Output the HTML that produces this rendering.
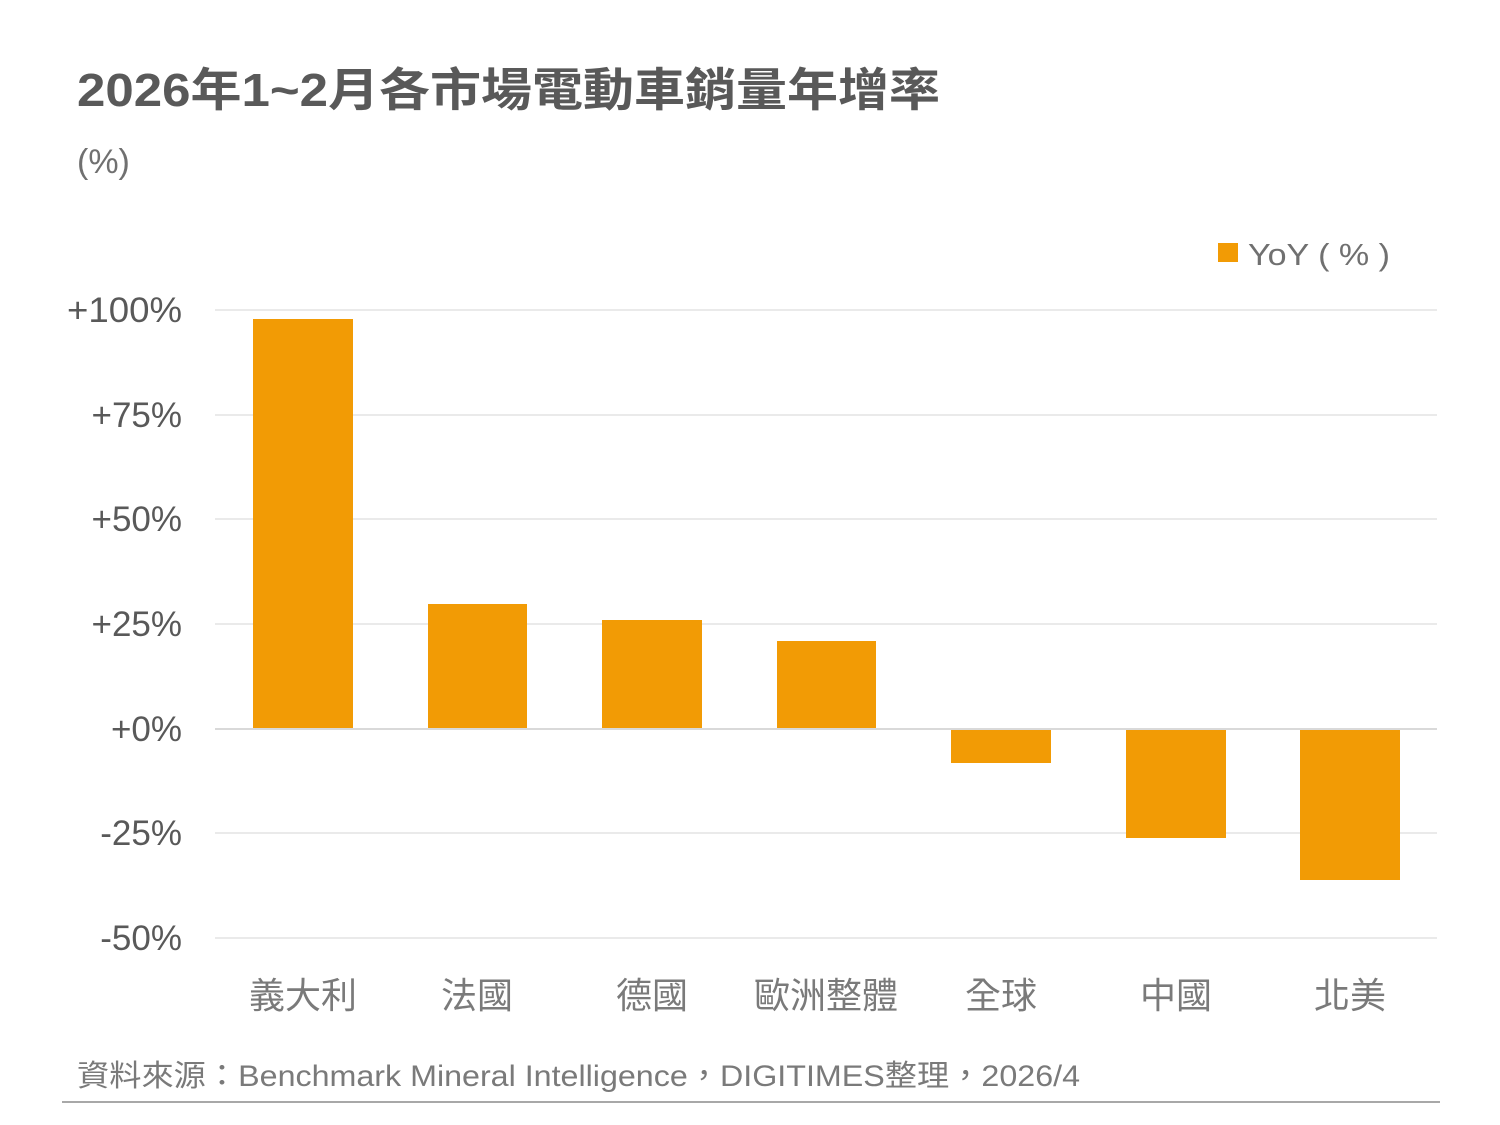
<!DOCTYPE html>
<html><head><meta charset="utf-8"><style>
html,body{margin:0;padding:0;background:#fff;}
svg{display:block;font-family:"Liberation Sans","Noto Sans CJK TC",sans-serif;}
</style></head><body>
<svg width="1500" height="1125" viewBox="0 0 1500 1125">
<rect width="1500" height="1125" fill="#fff"/>
<text x="77" y="106" font-size="46" font-weight="bold" fill="#595959" textLength="863" lengthAdjust="spacingAndGlyphs">2026年1~2月各市場電動車銷量年增率</text>
<text x="77" y="173" font-size="34" fill="#707070">(%)</text>
<rect x="1218" y="243" width="20" height="19" fill="#F29B05"/>
<text x="1248" y="265" font-size="31" fill="#707070" textLength="142" lengthAdjust="spacingAndGlyphs">YoY ( % )</text>
<g stroke="#e3e3e3" stroke-width="1.5">
<line x1="215" y1="310" x2="1437" y2="310"/>
<line x1="215" y1="415" x2="1437" y2="415"/>
<line x1="215" y1="519" x2="1437" y2="519"/>
<line x1="215" y1="624" x2="1437" y2="624"/>
<line x1="215" y1="833" x2="1437" y2="833"/>
<line x1="215" y1="938" x2="1437" y2="938"/>
</g>
<g font-size="35" fill="#595959" text-anchor="end">
<text x="182" y="322" textLength="115" lengthAdjust="spacingAndGlyphs">+100%</text>
<text x="182" y="427">+75%</text>
<text x="182" y="531">+50%</text>
<text x="182" y="636">+25%</text>
<text x="182" y="741">+0%</text>
<text x="182" y="845">-25%</text>
<text x="182" y="950">-50%</text>
</g>
<g fill="#F29B05">
<rect x="253" y="319" width="100" height="410"/>
<rect x="428" y="604" width="99" height="125"/>
<rect x="602" y="620" width="100" height="109"/>
<rect x="777" y="641" width="99" height="88"/>
<rect x="951" y="729" width="100" height="34"/>
<rect x="1126" y="729" width="100" height="109"/>
<rect x="1300" y="729" width="100" height="151"/>
</g>
<line x1="215" y1="729" x2="1437" y2="729" stroke="#d9d9d9" stroke-width="2"/>
<g font-size="36" fill="#7a7a7a" text-anchor="middle">
<text x="303" y="1008">義大利</text>
<text x="477" y="1008">法國</text>
<text x="652" y="1008">德國</text>
<text x="826" y="1008">歐洲整體</text>
<text x="1001" y="1008">全球</text>
<text x="1176" y="1008">中國</text>
<text x="1350" y="1008">北美</text>
</g>
<text x="77" y="1086" font-size="30" fill="#7a7a7a" textLength="1003" lengthAdjust="spacingAndGlyphs">資料來源：Benchmark Mineral Intelligence，DIGITIMES整理，2026/4</text>
<line x1="62" y1="1102" x2="1440" y2="1102" stroke="#8c8c8c" stroke-width="1.5"/>
</svg>
</body></html>
